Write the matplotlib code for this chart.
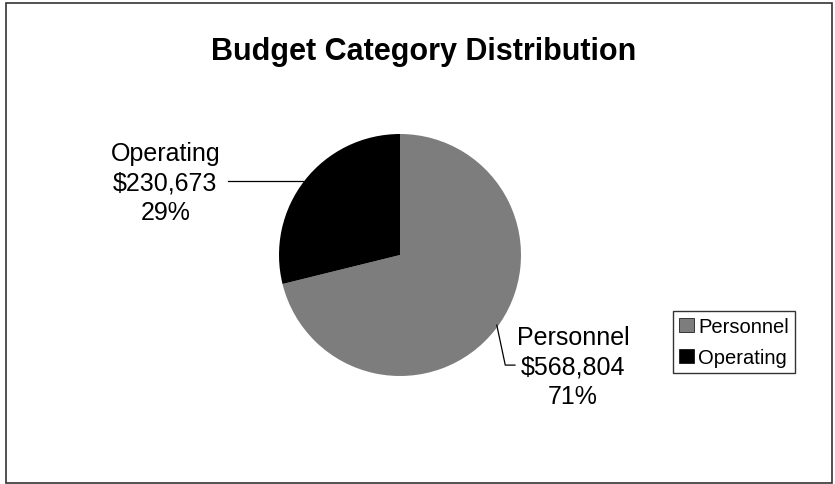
import matplotlib

matplotlib.use("Agg")
import matplotlib.pyplot as plt
from matplotlib.patches import Patch, Rectangle

categories = ["Personnel", "Operating"]
amounts = [568804, 230673]
colors = ["#7d7d7d", "#000000"]

plt.rcParams.update({"font.family": ["Liberation Sans", "DejaVu Sans"], "text.color": "black"})

W, H = 835, 485
fig = plt.figure(figsize=(W / 100, H / 100), dpi=100)

# pie centred at (400, 256) px from top-left, radius 121 px
cx, cy, r = 400, H - 256, 121
ax = fig.add_axes([(cx - r) / W, (cy - r) / H, 2 * r / W, 2 * r / H])
ax.pie(amounts, colors=colors, startangle=90, counterclock=False, radius=1,
       wedgeprops=dict(linewidth=0))
ax.set_xlim(-1, 1)
ax.set_ylim(-1, 1)
ax.set_aspect("equal")
ax.axis("off")

total = sum(amounts)
labels = [f"{c}\n${a:,}\n{100 * a / total:.0f}%" for c, a in zip(categories, amounts)]
# label positions in pie units (radius = 1)
ax.text(1.43, -0.92, labels[0], ha="center", va="center", fontsize=18, linespacing=1.3, clip_on=False)
ax.text(-1.94, 0.60, labels[1], ha="center", va="center", fontsize=18, linespacing=1.3, clip_on=False)
ax.plot([0.80, 0.87, 0.95], [-0.58, -0.91, -0.91], color="black", lw=0.9, clip_on=False)
ax.plot([-1.42, -0.80], [0.61, 0.61], color="black", lw=0.9, clip_on=False)

fig.text(424 / W, 1 - 60 / H, "Budget Category Distribution", ha="center", va="baseline",
         fontsize=22, fontweight="bold")

handles = [Patch(facecolor=c, edgecolor="black", linewidth=0.5) for c in colors]
leg = fig.legend(handles, categories, loc="upper left", bbox_to_anchor=(673 / W, 1 - 312 / H),
                 fontsize=14.5, frameon=True, fancybox=False, edgecolor="black",
                 handlelength=0.75, handleheight=0.75, handletextpad=0.2,
                 borderpad=0.3, labelspacing=0.6, borderaxespad=0)
leg.get_frame().set_linewidth(1.0)

fig.patches.append(Rectangle((6 / W, 1 / H), 826 / W, 480 / H, transform=fig.transFigure,
                             fill=False, edgecolor="#333333", linewidth=1.2))

fig.savefig("out.png", dpi=100)
